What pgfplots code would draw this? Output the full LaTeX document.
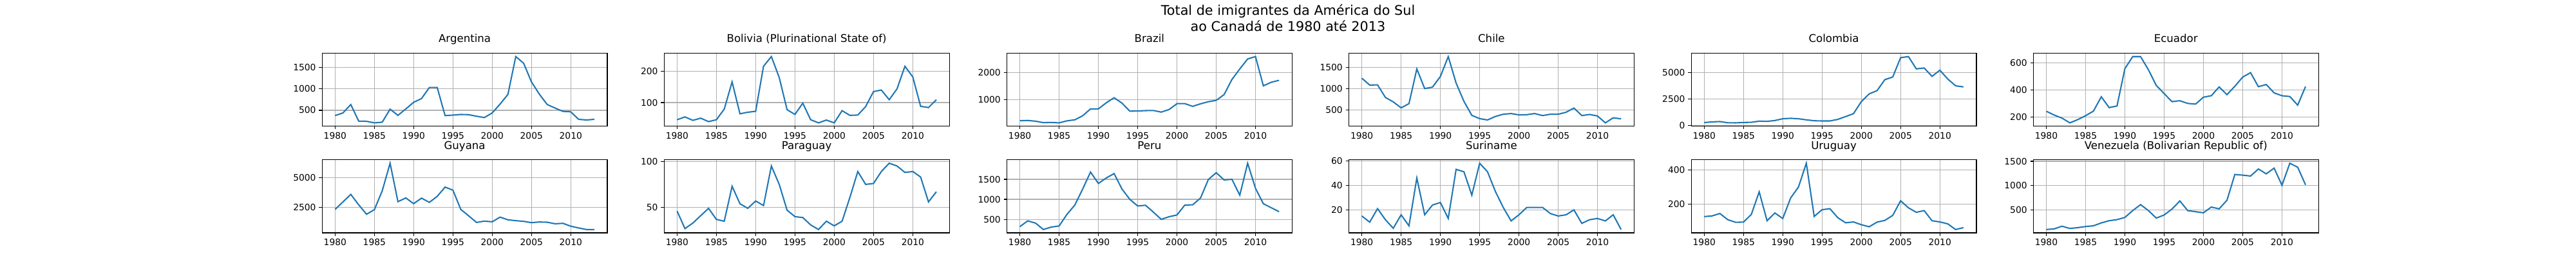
\documentclass[border=0pt]{standalone}
\usepackage{fontspec}
\setmainfont{DejaVu Sans}
\usepackage{pgfplots}
\usepackage{pgfplotstable}
\pgfplotsset{compat=1.18}
\definecolor{mplblue}{HTML}{1F77B4}
\definecolor{mplgrid}{HTML}{B0B0B0}

\pgfplotstableread{
Year Arg Bol Bra Chi Col Ecu Guy Par Per Sur Uru Ven
1980 376 45 211 1241 266 241 2333 46 319 15 128 104
1981 438 54 220 1080 326 213 2963 27 462 10 132 117
1982 634 43 192 1085 360 190 3593 33 407 21 146 171
1983 247 50 139 790 244 155 2722 41 247 12 110 126
1984 242 39 145 686 235 179 1926 49 308 5 95 142
1985 206 45 130 546 271 208 2315 37 335 16 96 165
1986 222 79 205 645 292 242 3889 35 626 7 141 180
1987 526 166 244 1458 396 348 6204 73 857 46 272 239
1988 381 64 394 997 375 268 2981 54 1258 16 104 284
1989 531 69 650 1033 458 280 3296 49 1681 24 149 306
1990 686 72 650 1282 625 556 2815 57 1396 26 117 351
1991 773 216 877 1748 667 646 3278 52 1533 13 236 491
1992 1031 247 1066 1127 625 646 2926 95 1643 53 300 613
1993 1031 180 866 697 521 548 3426 75 1258 51 438 491
1994 376 77 566 370 437 432 4204 47 1000 32 129 338
1995 387 62 572 293 417 372 3944 40 835 58 168 401
1996 402 98 586 262 417 312 2333 39 852 51 174 523
1997 397 45 591 344 562 319 1796 31 681 35 122 689
1998 361 35 531 396 833 299 1241 26 500 22 92 491
1999 330 44 626 412 1104 294 1352 35 566 11 97 469
2000 438 35 845 381 2250 345 1296 30 610 16 81 446
2001 644 74 847 386 2979 356 1685 35 857 22 69 563
2002 871 59 745 412 3291 421 1463 61 863 22 96 527
2003 1753 60 839 365 4333 364 1389 89 1033 22 106 703
2004 1598 87 917 396 4583 426 1333 75 1495 17 135 1230
2005 1160 135 969 396 6416 494 1222 76 1665 15 220 1216
2006 876 140 1181 443 6520 527 1278 89 1484 16 179 1198
2007 634 109 1746 541 5354 423 1259 98 1500 20 153 1342
2008 552 144 2138 365 5437 439 1130 95 1104 9 163 1243
2009 474 216 2509 391 4645 377 1167 88 1901 12 104 1360
2010 464 182 2598 355 5229 356 926 89 1275 13 97 1009
2011 289 88 1508 194 4395 350 778 83 890 11 86 1460
2012 273 84 1642 313 3750 286 648 56 791 16 53 1378
2013 289 109 1714 288 3645 424 648 67 692 4 64 1018
}\data

\pgfplotsset{
  panel/.style={
    scale only axis, width=320pt, height=81.7pt, anchor=south west,
    xmin=1978.35, xmax=2014.65, enlarge y limits=0.05,
    xtick={1980,1985,...,2010},
    scaled ticks=false,
    /pgf/number format/1000 sep={},
    /pgf/number format/assume math mode=true,
    tick label style={font=\fontsize{10}{12}\selectfont, text=black},
    grid=major, major grid style={color=mplgrid, line width=0.8pt},
    axis line style={line width=0.8pt, black},
    tick style={line width=0.8pt, black},
    tick pos=left, tick align=outside, major tick length=3.5pt,
    title style={font=\fontsize{12}{14}\selectfont, anchor=base, yshift=6pt, inner sep=0pt},
  },
}
\newcommand{\panel}[5]{%
\begin{axis}[panel, at={(#1,#2)}, title={#4}, ytick={#5}]
\addplot[mplblue, line width=1.5pt, mark=none] table[x=Year, y=#3] {\data};
\end{axis}}

\begin{document}
\begin{tikzpicture}
\useasboundingbox (0,0) rectangle (2890.8pt,289.08pt);
\node[align=center, font=\fontsize{15}{18}\selectfont] at (1445.4pt,268.8pt) {Total de imigrantes da América do Sul\\ao Canadá de 1980 até 2013};
\panel{361.5pt}{147.7pt}{Arg}{Argentina}{500,1000,1500}
\panel{745.3pt}{147.7pt}{Bol}{Bolivia (Plurinational State of)}{100,200}
\panel{1129.9pt}{147.7pt}{Bra}{Brazil}{1000,2000}
\panel{1513.7pt}{147.7pt}{Chi}{Chile}{500,1000,1500}
\panel{1897.9pt}{147.7pt}{Col}{Colombia}{0,2500,5000}
\panel{2281.8pt}{147.7pt}{Ecu}{Ecuador}{200,400,600}
\panel{361.5pt}{28.2pt}{Guy}{Guyana}{2500,5000}
\panel{745.3pt}{28.2pt}{Par}{Paraguay}{50,100}
\panel{1129.9pt}{28.2pt}{Per}{Peru}{500,1000,1500}
\panel{1513.7pt}{28.2pt}{Sur}{Suriname}{20,40,60}
\panel{1897.9pt}{28.2pt}{Uru}{Uruguay}{200,400}
\panel{2281.8pt}{28.2pt}{Ven}{Venezuela (Bolivarian Republic of)}{500,1000,1500}
\end{tikzpicture}
\end{document}
